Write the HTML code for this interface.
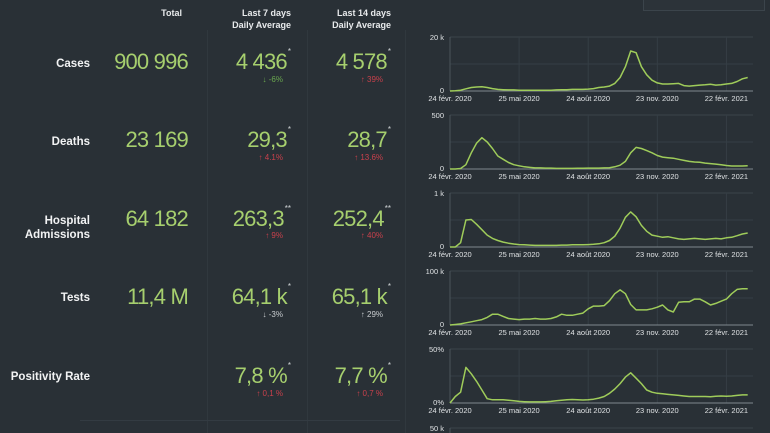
<!DOCTYPE html>
<html><head><meta charset="utf-8">
<style>
body{margin:0;width:770px;height:433px;background:#293036;overflow:hidden;font-family:"Liberation Sans",sans-serif;position:relative}
.t{position:absolute;white-space:nowrap}
.h{color:#e8eaec;font-weight:bold;font-size:9px;text-align:right;line-height:12px}
.lab{color:#f2f3f4;font-weight:bold;font-size:11.5px;text-align:right;line-height:14px}
.big{color:#a6cf6e;font-size:22px;text-align:right;letter-spacing:-0.8px}
.big sup{font-size:8px;color:#cfd3d6;vertical-align:top;position:relative;top:-2px;margin-left:1px;letter-spacing:0}
.ch{font-size:8px;text-align:right}
.g{color:#6aa84f}.r{color:#c9414c}.w{color:#c9cdd0}
.vl{position:absolute;width:1px;background:#30383e}
</style></head><body>
<div class="vl" style="left:207px;top:30px;height:403px"></div>
<div class="vl" style="left:307px;top:30px;height:403px"></div>
<div class="vl" style="left:405px;top:30px;height:403px"></div>
<div style="position:absolute;left:80px;top:420px;width:320px;height:1px;background:#333b42"></div>
<div style="position:absolute;left:643px;top:-2px;width:120px;height:11px;border:1px solid #3b444b;background:#2c3339"></div>

<div class="t h" style="right:588px;top:7px">Total</div>
<div class="t h" style="right:479px;top:7px">Last 7 days<br>Daily Average</div>
<div class="t h" style="right:379px;top:7px">Last 14 days<br>Daily Average</div>

<div class="t lab" style="right:680px;top:57px">Cases</div>
<div class="t big" style="right:582px;top:49px">900 996</div>
<div class="t big" style="right:479px;top:49px">4 436<sup>*</sup></div>
<div class="t ch g" style="right:487px;top:75px">↓ -6%</div>
<div class="t big" style="right:379px;top:49px">4 578<sup>*</sup></div>
<div class="t ch r" style="right:387px;top:75px">↑ 39%</div>

<div class="t lab" style="right:680px;top:135px">Deaths</div>
<div class="t big" style="right:582px;top:127px">23 169</div>
<div class="t big" style="right:479px;top:127px">29,3<sup>*</sup></div>
<div class="t ch r" style="right:487px;top:153px">↑ 4.1%</div>
<div class="t big" style="right:379px;top:127px">28,7<sup>*</sup></div>
<div class="t ch r" style="right:387px;top:153px">↑ 13.6%</div>

<div class="t lab" style="right:680px;top:214px">Hospital<br>Admissions</div>
<div class="t big" style="right:582px;top:206px">64 182</div>
<div class="t big" style="right:479px;top:206px">263,3<sup>**</sup></div>
<div class="t ch r" style="right:487px;top:231px">↑ 9%</div>
<div class="t big" style="right:379px;top:206px">252,4<sup>**</sup></div>
<div class="t ch r" style="right:387px;top:231px">↑ 40%</div>

<div class="t lab" style="right:680px;top:291px">Tests</div>
<div class="t big" style="right:582px;top:284px">11,4 M</div>
<div class="t big" style="right:479px;top:284px">64,1 k<sup>*</sup></div>
<div class="t ch w" style="right:487px;top:310px">↓ -3%</div>
<div class="t big" style="right:379px;top:284px">65,1 k<sup>*</sup></div>
<div class="t ch w" style="right:387px;top:310px">↑ 29%</div>

<div class="t lab" style="right:680px;top:370px">Positivity Rate</div>
<div class="t big" style="right:479px;top:363px">7,8 %<sup>*</sup></div>
<div class="t ch r" style="right:487px;top:389px">↑ 0,1 %</div>
<div class="t big" style="right:379px;top:363px">7,7 %<sup>*</sup></div>
<div class="t ch r" style="right:387px;top:389px">↑ 0,7 %</div>

<svg id="charts" width="770" height="433" style="position:absolute;left:0;top:0"></svg>
<script>
const dateLabels=["24 févr. 2020","25 mai 2020","24 août 2020","23 nov. 2020","22 févr. 2021"];
const dateDays=[0,91,182,273,364];
const casesK=[0,0.1,0.3,0.8,1.3,1.5,1.6,1.3,0.9,0.6,0.5,0.4,0.4,0.3,0.3,0.3,0.3,0.3,0.3,0.3,0.4,0.5,0.5,0.6,0.6,0.6,0.7,0.9,1.3,1.5,1.8,2.8,5,9,14.8,14.2,9,6,4,3,2.6,2.6,2.7,2.8,2,1.8,2,2.2,2.3,2.5,2.2,2.3,2.6,2.8,3.5,4.5,5];
const deaths=[0,0,5,40,150,240,290,250,190,120,90,60,40,30,20,15,10,10,8,8,6,6,6,6,7,7,8,8,8,10,12,20,35,70,150,200,190,170,150,125,110,105,100,90,80,70,65,62,55,50,45,40,32,28,28,28,30];
const hospital=[0,0,80,500,510,420,320,220,160,120,90,70,55,45,40,35,30,30,30,30,30,35,35,40,40,40,45,50,60,80,120,200,350,550,650,560,400,290,220,200,180,190,170,150,140,150,160,150,140,150,160,150,170,180,210,240,260];
const testsK=[0,1,2,4,6,8,10,14,20,20,16,12,11,10,11,11,12,11,11,12,15,20,18,18,20,22,30,35,35,36,45,58,65,58,38,28,28,28,30,33,37,28,24,42,43,43,48,48,43,37,40,44,48,58,66,67,67];
const positivity=[0,6,10,33,27,20,12,4,3,3,3,2.5,2,1.5,1.2,1,1,1,1.2,1.5,2,2.5,3,3.2,3,2.8,3,3.5,4.5,6,9,13,18,24,28,23,18,12,10,9,8.5,8,7.5,7,6.5,6,6,6,6,5.8,6.2,6.5,6.2,6.5,7,7.5,7.5];
const charts=[
 {name:"cases",data:casesK,max:20,top:"20 k",y0:37},
 {name:"deaths",data:deaths,max:500,top:"500",y0:115},
 {name:"hospital",data:hospital,max:1000,top:"1 k",y0:193},
 {name:"tests",data:testsK,max:100,top:"100 k",y0:271},
 {name:"positivity",data:positivity,max:50,top:"50%",y0:349,zero:"0%"}
];
const svg=document.getElementById('charts');
const NS="http://www.w3.org/2000/svg";
const X0=450,X1=753,H=54,DAYS=399;
const xs=d=>X0+d/DAYS*(X1-X0);
function mk(t,a,txt){const e=document.createElementNS(NS,t);for(const k in a)e.setAttribute(k,a[k]);if(txt!==undefined)e.textContent=txt;svg.appendChild(e);return e;}
charts.forEach(c=>{
 const ys=v=>c.y0+H-v/c.max*H;
 const g1=mk('line',{x1:X0,x2:X1,y1:ys(c.max),y2:ys(c.max),stroke:'#3a434a','stroke-width':1});
 
 
 const g2=mk('line',{x1:X0,x2:X1,y1:ys(c.max/2),y2:ys(c.max/2),stroke:'#353e45','stroke-width':1});
 
 
 dateDays.forEach((d,i)=>{
  const v=mk('line',{x1:xs(d),x2:xs(d),y1:c.y0,y2:c.y0+H,stroke:i==0?'#4a545b':'#353e45','stroke-width':1});
  
  
  const t=mk('text',{x:xs(d),y:c.y0+H+10,fill:'#dfe2e4','font-size':'7.5',"text-anchor":"middle","font-family":"Liberation Sans, sans-serif"},dateLabels[i]);
  
  
 });
 const ax=mk('line',{x1:X0,x2:X1,y1:c.y0+H,y2:c.y0+H,stroke:'#7f888e','stroke-width':1});
 
 
 const tt=mk('text',{x:X0-6,y:ys(c.max)+3,fill:'#dfe2e4','font-size':'7.5',"text-anchor":"end","font-family":"Liberation Sans, sans-serif"},c.top);
 
 
 const tz=mk('text',{x:X0-6,y:c.y0+H+2,fill:'#dfe2e4','font-size':'7.5',"text-anchor":"end","font-family":"Liberation Sans, sans-serif"},c.zero||"0");
 
 
 const pts=c.data.map((v,i)=>xs(i*7).toFixed(1)+','+ys(v).toFixed(1)).join(' ');
 const pl=mk('polyline',{points:pts,fill:'none',stroke:'#9fcc5a','stroke-width':1.5,'stroke-linejoin':'round'});
 
 
});
const last=mk('line',{x1:X0,x2:X1,y1:428,y2:428,stroke:'#3a434a','stroke-width':1});


const lt=mk('text',{x:X0-6,y:431,fill:'#dfe2e4','font-size':'7.5',"text-anchor":"end","font-family":"Liberation Sans, sans-serif"},"50 k");


const lv=mk('line',{x1:X0,x2:X0,y1:428,y2:433,stroke:'#4a545b','stroke-width':1});


</script>
</body></html>
